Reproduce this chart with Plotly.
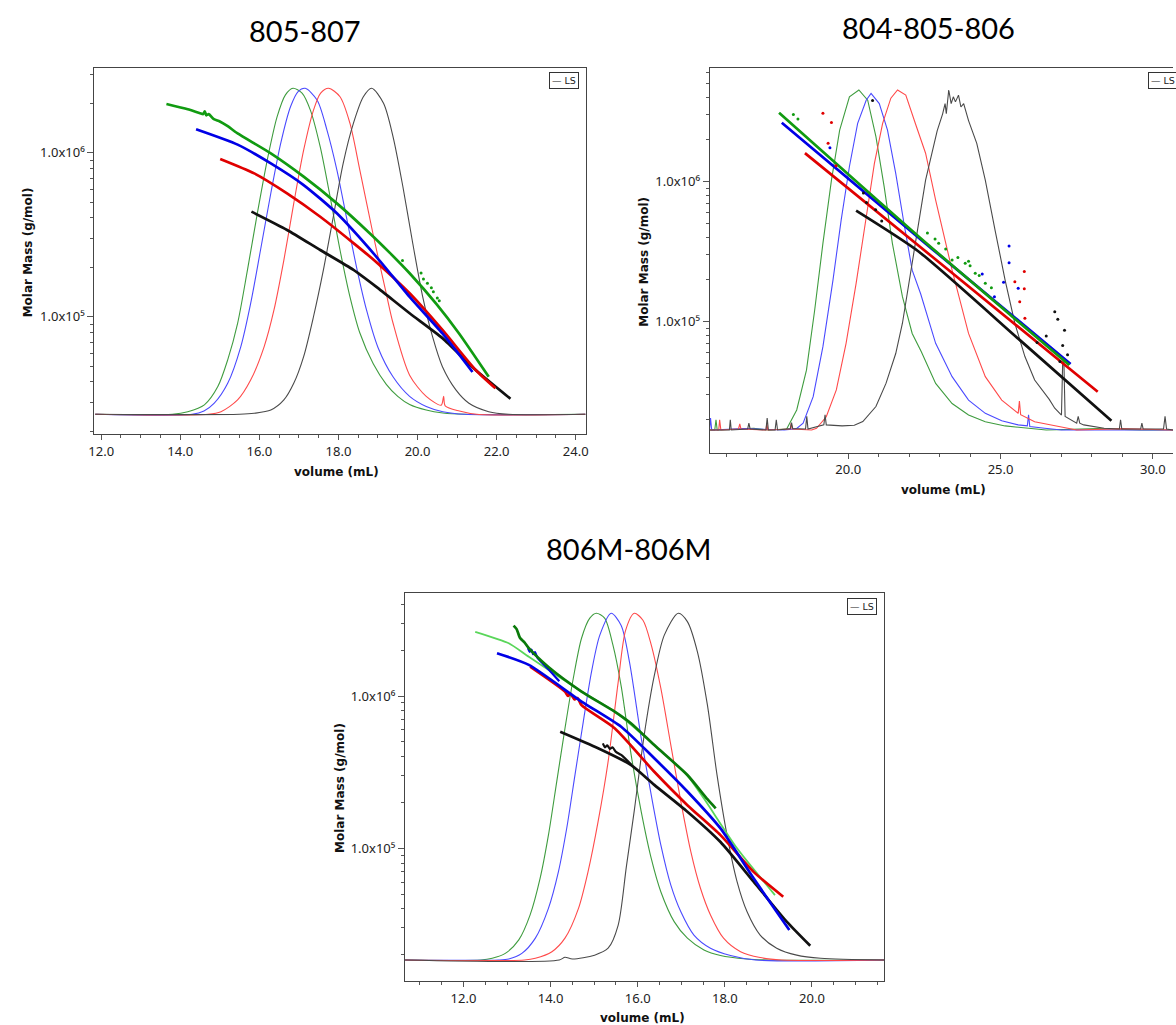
import plotly.graph_objects as go

W, H = 1176, 1025

# ---------------- data ----------------
panel_titles = ["805-807", "804-805-806", "806M-806M"]
x_title = "volume (mL)"
y_title = "Molar Mass (g/mol)"
mm_tick_vals = [1e5, 1e6]
mm_tick_text = ["1.0x10\u2075", "1.0x10\u2076"]
legend_text = "\u2014 LS"

# ---- Panel 1 (805-807): LS signal, (volume mL, normalized) ----
p1_ls_green = [(11.85, 0), (13.8, 0), (14.19, 0.008), (14.61, 0.029), (14.95, 0.085), (15.20, 0.167),
               (15.45, 0.279), (15.70, 0.443), (15.95, 0.617), (16.20, 0.78), (16.45, 0.913), (16.66, 0.98),
               (16.85, 1.0), (17.08, 0.985), (17.29, 0.933), (17.54, 0.82), (17.79, 0.667), (18.04, 0.504),
               (18.29, 0.361), (18.54, 0.25), (18.88, 0.155), (19.21, 0.092), (19.50, 0.055), (19.80, 0.03),
               (20.22, 0.013), (20.64, 0.004), (21.2, 0), (24.25, 0)]
p1_ls_blue = [(11.85, 0), (14.30, 0), (14.60, 0.01), (14.86, 0.034), (15.20, 0.095), (15.53, 0.207),
              (15.78, 0.34), (16.03, 0.504), (16.29, 0.678), (16.54, 0.831), (16.79, 0.944), (16.98, 0.99),
              (17.16, 1.0), (17.46, 0.964), (17.71, 0.872), (17.96, 0.75), (18.21, 0.60), (18.46, 0.45),
              (18.71, 0.32), (19.00, 0.205), (19.38, 0.115), (19.80, 0.055), (20.22, 0.024), (20.64, 0.008),
              (21.2, 0), (24.25, 0)]
p1_ls_red = [(11.85, 0), (14.70, 0), (15.03, 0.008), (15.45, 0.044), (15.78, 0.105), (16.12, 0.207),
             (16.37, 0.32), (16.62, 0.473), (16.87, 0.647), (17.12, 0.81), (17.37, 0.933), (17.55, 0.985),
             (17.75, 1.0), (18.04, 0.974), (18.29, 0.893), (18.54, 0.75), (18.88, 0.55), (19.21, 0.37),
             (19.38, 0.28), (19.80, 0.12), (20.22, 0.055), (20.60, 0.028), (20.66, 0.055), (20.70, 0.026),
             (21.06, 0.01), (21.5, 0), (24.25, 0)]
p1_ls_black = [(11.85, 0), (15.50, 0), (15.87, 0.003), (16.29, 0.013), (16.62, 0.044), (16.87, 0.095),
               (17.12, 0.177), (17.37, 0.30), (17.62, 0.443), (17.87, 0.606), (18.12, 0.77), (18.38, 0.893),
               (18.63, 0.974), (18.84, 1.0), (19.14, 0.954), (19.38, 0.852), (19.63, 0.698), (19.88, 0.524),
               (20.13, 0.361), (20.38, 0.238), (20.63, 0.146), (20.97, 0.075), (21.30, 0.034), (21.80, 0.008),
               (22.3, 0), (24.25, 0)]
# Panel 1 molar mass (volume mL, g/mol)
p1_mw_green = [(13.65, 1.98e6), (14.19, 1.84e6), (14.50, 1.74e6), (14.58, 1.72e6), (14.62, 1.79e6),
               (14.66, 1.69e6), (14.72, 1.72e6), (14.85, 1.60e6), (15.00, 1.55e6), (15.20, 1.45e6),
               (15.45, 1.31e6), (16.29, 9.9e5), (17.12, 7.14e5), (17.96, 4.91e5), (18.79, 3.23e5),
               (19.30, 2.45e5), (19.80, 1.84e5), (20.47, 1.2e5), (21.05, 7.9e4), (21.80, 4.3e4)]
p1_mw_blue = [(14.40, 1.39e6), (15.45, 1.12e6), (16.29, 8.6e5), (17.12, 6.35e5), (17.96, 4.27e5),
              (18.96, 2.32e5), (19.80, 1.32e5), (20.63, 7.9e4), (21.39, 4.6e4)]
p1_mw_red = [(15.01, 9.16e5), (15.87, 7.48e5), (16.70, 5.65e5), (17.54, 4.07e5), (18.38, 2.81e5),
             (18.96, 2.15e5), (19.80, 1.39e5), (20.63, 8.3e4), (21.47, 4.73e4), (21.97, 3.66e4)]
p1_mw_black = [(15.80, 4.37e5), (16.70, 3.38e5), (17.54, 2.55e5), (18.38, 1.93e5), (18.96, 1.52e5),
               (19.80, 1.05e5), (20.63, 7.4e4), (21.47, 4.73e4), (22.35, 3.16e4)]
p1_dots_green = [(20.09, 1.85e5), (20.40, 1.42e5), (20.25, 1.6e5), (20.50, 1.3e5), (20.35, 1.5e5),
                 (20.55, 1.25e5), (19.62, 2.2e5), (20.15, 1.7e5)]

# ---- Panel 2 (804-805-806) ----
p2_ls_green = [(15.45, 0), (15.62, 0), (15.66, 0.03), (15.70, 0), (16.90, 0.005), (17.40, 0), (17.98, 0.003),
               (18.31, 0.059), (18.63, 0.176),
               (18.90, 0.353), (19.17, 0.549), (19.45, 0.735), (19.72, 0.882), (20.04, 0.98), (20.35, 1.0),
               (20.64, 0.97), (20.91, 0.863), (21.18, 0.716), (21.45, 0.549), (21.78, 0.392), (22.10, 0.284),
               (22.40, 0.23), (22.87, 0.137), (23.41, 0.078), (23.95, 0.044), (24.50, 0.024), (25.15, 0.012),
               (25.90, 0.005), (26.50, 0), (28.20, 0.004), (29.60, 0), (30.66, 0)]
p2_ls_blue = [(15.45, 0), (15.48, 0.035), (15.52, 0), (16.60, 0.004), (17.90, 0), (18.30, 0.004),
              (18.52, 0.02), (18.85, 0.098), (19.17, 0.245),
              (19.50, 0.441), (19.77, 0.618), (20.04, 0.775), (20.31, 0.902), (20.59, 0.97), (20.75, 0.99),
              (21.02, 0.96), (21.29, 0.882), (21.56, 0.755), (21.83, 0.608), (22.10, 0.47), (22.38, 0.40),
              (22.87, 0.255), (23.41, 0.157), (23.95, 0.088), (24.50, 0.049), (25.04, 0.027), (25.58, 0.015),
              (25.88, 0.012), (25.92, 0.045), (25.96, 0.01), (26.45, 0.005), (27.00, 0), (30.66, 0)]
p2_ls_red = [(15.45, 0), (15.75, 0), (15.78, 0.03), (15.82, 0), (16.40, 0.003), (16.44, 0.018), (16.48, 0.003),
             (17.30, 0), (17.33, 0.02), (17.36, 0), (18.10, 0.003), (18.13, 0.02), (18.16, 0.003),
             (18.80, 0), (18.96, 0.005), (19.28, 0.039), (19.61, 0.118), (19.93, 0.255), (20.26, 0.431),
             (20.59, 0.627), (20.86, 0.784), (21.13, 0.902), (21.40, 0.976), (21.62, 1.0), (21.89, 0.985),
             (22.21, 0.90), (22.54, 0.814), (22.87, 0.676), (23.41, 0.47), (23.95, 0.284), (24.50, 0.157),
             (25.04, 0.088), (25.58, 0.049), (25.62, 0.085), (25.66, 0.045), (26.12, 0.024), (26.88, 0.01),
             (27.50, 0), (29.00, 0.004), (30.66, 0)]
p2_ls_black = [(15.45, 0), (16.10, 0), (16.13, 0.03), (16.16, 0), (16.70, 0.003), (16.74, 0.02),
               (16.78, 0.003), (17.30, 0), (17.34, 0.035), (17.38, 0),
               (17.60, 0), (17.64, 0.03), (17.68, 0), (18.10, 0.004), (18.14, 0.022), (18.18, 0.004),
               (18.60, 0.003), (18.64, 0.04), (18.68, 0.003),
               (19.20, 0.015), (19.24, 0.045), (19.28, 0.015), (19.80, 0.012), (20.20, 0.014), (20.48, 0.025),
               (20.91, 0.069), (21.24, 0.137), (21.56, 0.225), (21.78, 0.314), (21.99, 0.431), (22.27, 0.578),
               (22.54, 0.735), (22.92, 0.88), (23.10, 0.93), (23.18, 0.96), (23.22, 0.93), (23.30, 1.0),
               (23.38, 0.96), (23.45, 0.98), (23.52, 0.965), (23.62, 0.985), (23.70, 0.95), (23.79, 0.96),
               (23.95, 0.91), (24.22, 0.843), (24.50, 0.735), (24.82, 0.588), (25.15, 0.441), (25.47, 0.314),
               (25.80, 0.216), (26.12, 0.147), (26.45, 0.108), (26.60, 0.09), (26.78, 0.064), (27.00, 0.044),
               (27.04, 0.20), (27.08, 0.20), (27.12, 0.04), (27.30, 0.03), (27.50, 0.02), (27.55, 0.04),
               (27.60, 0.02), (27.73, 0.015), (28.40, 0.005), (28.90, 0.003), (28.94, 0.03), (28.98, 0.003),
               (29.60, 0.003), (29.64, 0.02), (29.68, 0.003),
               (30.35, 0.003), (30.40, 0.04), (30.45, 0.003), (30.66, 0)]
p2_mw_green = [(17.73, 3.11e6), (22.32, 4.05e5), (27.26, 4.9e4)]
p2_mw_blue = [(17.82, 2.64e6), (22.76, 3.3e5), (27.30, 4.99e4)]
p2_mw_red = [(18.58, 1.6e6), (22.76, 2.91e5), (28.19, 3.16e4)]
p2_mw_black = [(20.26, 6.21e5), (22.32, 3.16e5), (25.58, 7.57e4), (28.64, 1.96e4)]
p2_dots_green = [(18.20, 3.02e6), (18.35, 2.8e6), (22.97, 3.63e5), (23.41, 2.76e5), (23.84, 2.61e5),
                 (24.17, 2.22e5), (24.50, 1.88e5), (23.60, 2.88e5), (24.00, 2.51e5), (24.30, 2.14e5),
                 (23.20, 3.3e5), (22.60, 4.3e5), (24.70, 1.75e5), (23.95, 2.7e5), (22.85, 3.9e5)]
p2_dots_red = [(19.17, 3.08e6), (19.45, 2.65e6), (19.34, 1.88e6), (25.78, 2.28e5), (25.47, 1.93e5),
               (25.78, 1.72e5), (25.63, 1.39e5), (25.80, 1.06e5), (19.60, 1.3e6)]
p2_dots_blue = [(25.28, 3.48e5), (25.28, 2.64e5), (25.58, 1.73e5), (25.10, 1.91e5), (24.40, 2.19e5),
                (24.80, 1.51e5), (19.40, 1.75e6)]
p2_dots_black = [(20.80, 3.8e6), (20.50, 8.3e5), (20.60, 7.1e5), (20.90, 6.3e5), (21.10, 5.25e5),
                 (26.78, 1.18e5), (26.88, 1.04e5), (27.10, 8.7e4), (27.04, 6.76e4), (26.50, 7.9e4),
                 (26.20, 7.1e4), (26.95, 5.2e4), (27.20, 5.8e4)]

# ---- Panel 3 (806M-806M) ----
p3_ls_green = [(10.66, 0), (12.40, 0), (12.66, 0.005), (12.96, 0.019), (13.27, 0.058), (13.53, 0.13),
               (13.76, 0.236), (13.95, 0.36), (14.14, 0.514), (14.33, 0.668), (14.52, 0.812), (14.71, 0.928),
               (14.90, 0.986), (15.05, 1.0), (15.24, 0.986), (15.43, 0.909), (15.62, 0.79), (15.85, 0.591),
               (16.08, 0.428), (16.31, 0.293), (16.53, 0.197), (16.84, 0.11), (17.14, 0.063), (17.52, 0.029),
               (17.90, 0.013), (18.50, 0.003), (19.00, 0), (21.66, 0)]
p3_ls_blue = [(10.66, 0), (12.80, 0), (13.04, 0.003), (13.34, 0.019), (13.65, 0.063), (13.95, 0.149),
              (14.18, 0.255), (14.37, 0.38), (14.56, 0.534), (14.75, 0.687), (14.94, 0.832), (15.13, 0.937),
              (15.39, 1.0), (15.62, 0.965), (15.81, 0.86), (16.08, 0.64), (16.31, 0.476), (16.53, 0.332),
              (16.76, 0.216), (16.99, 0.139), (17.29, 0.072), (17.67, 0.034), (18.13, 0.013), (18.70, 0),
              (21.66, 0)]
p3_ls_red = [(10.66, 0), (13.40, 0), (13.65, 0.005), (14.03, 0.024), (14.33, 0.063), (14.64, 0.149),
             (14.86, 0.255), (15.09, 0.399), (15.32, 0.572), (15.55, 0.80), (15.72, 0.95), (15.92, 1.0),
             (16.12, 0.98), (16.31, 0.909), (16.53, 0.784), (16.76, 0.62), (16.99, 0.457), (17.22, 0.312),
             (17.44, 0.207), (17.67, 0.13), (17.97, 0.063), (18.36, 0.024), (18.81, 0.007), (19.30, 0),
             (21.66, 0)]
p3_ls_black = [(10.66, 0), (14.20, 0), (14.33, 0.008), (14.50, 0.003), (15.01, 0.014), (15.32, 0.034),
               (15.55, 0.10), (15.74, 0.27), (15.92, 0.43), (16.15, 0.65), (16.38, 0.82), (16.61, 0.937),
               (16.93, 1.0), (17.14, 0.976), (17.37, 0.889), (17.60, 0.735), (17.82, 0.534), (18.05, 0.36),
               (18.28, 0.226), (18.51, 0.139), (18.81, 0.072), (19.19, 0.034), (19.65, 0.014), (20.20, 0.005),
               (21.66, 0)]
p3_mw_lightgreen = [(12.27, 2.64e6), (13.04, 2.22e6), (13.50, 1.81e6), (14.71, 1.07e6), (15.47, 7.9e5),
                    (16.38, 4.76e5), (17.14, 3.0e5), (17.52, 2.12e5), (18.28, 1.0e5), (19.15, 4.93e4)]
p3_mw_green = [(13.15, 2.9e6), (13.22, 2.75e6), (13.30, 2.4e6), (13.40, 2.25e6), (13.50, 2.06e6),
               (13.95, 1.55e6), (14.71, 1.07e6), (15.47, 7.9e5), (15.85, 6.6e5), (16.38, 4.76e5),
               (17.14, 3.03e5), (17.60, 2.1e5), (17.79, 1.83e5)]
p3_mw_blue = [(12.77, 1.91e6), (13.50, 1.6e6), (14.71, 9.2e5), (15.62, 6.28e5), (16.38, 3.9e5),
              (17.14, 2.36e5), (17.90, 1.35e5), (18.66, 6.35e4), (19.48, 2.91e4)]
p3_mw_blue_noisy = [(13.48, 2.06e6), (13.52, 1.95e6), (13.56, 2.02e6), (13.60, 1.88e6), (13.64, 1.94e6),
                    (13.70, 1.78e6), (13.78, 1.68e6), (13.95, 1.5e6), (14.20, 1.25e6)]
p3_mw_red = [(13.53, 1.56e6), (14.33, 1.07e6), (14.40, 1.0e6), (14.45, 1.04e6), (14.55, 9.5e5),
             (14.62, 9.7e5), (14.71, 8.7e5), (15.47, 6.14e5), (16.38, 3.18e5), (17.14, 1.92e5),
             (17.90, 1.22e5), (18.66, 7.0e4), (19.34, 4.81e4)]
p3_mw_black = [(14.22, 5.83e5), (15.09, 4.54e5), (15.85, 3.52e5), (16.38, 2.61e5), (17.14, 1.74e5),
               (17.90, 1.1e5), (18.66, 6.04e4), (19.42, 3.3e4), (19.96, 2.29e4)]
p3_mw_black_noisy = [(15.20, 4.89e5), (15.25, 4.6e5), (15.30, 4.75e5), (15.36, 4.5e5), (15.42, 4.6e5),
                     (15.50, 4.3e5), (15.62, 4.1e5), (15.85, 3.55e5)]

# ---------------- styling / layout ----------------
LS_COL = {"green": "#3f9c3f", "blue": "#4a4aff", "red": "#ff4a4a", "black": "#4a4a4a"}
MW_COL = {"green": "#119b11", "blue": "#0000e6", "red": "#e00000", "black": "#111111",
          "lightgreen": "#5ad65a", "darkgreen": "#0a7a0a"}

panels = [
    dict(l=89, r=584, t=68.3, b=434, v0=12, px0=95.9, ppm=39.85, y6=152.7, y5=316.7,
         base=414.3, peak=88.3, dtick=2, minor=0.5, leg=(577, 72.5, "right"),
         title=(301, 30), ytitle=(22, 252.5), xtitle=(333, 472)),
    dict(l=709, r=1176, t=68.3, b=452.7, v0=20, px0=848.7, ppm=30.7, y6=181.7, y5=321.7,
         base=430, peak=90, dtick=5, minor=1, leg=(1151, 72.5, "left"),
         title=(930, 27), ytitle=(643, 261.7), xtitle=(945, 490)),
    dict(l=402, r=885, t=593.3, b=981, v0=12, px0=461, ppm=43.9, y6=696, y5=848.3,
         base=960, peak=613.3, dtick=2, minor=0.5, leg=(878, 597.5, "right"),
         title=(628, 548), ytitle=(336, 787.5), xtitle=(641, 1018)),
]

ls_data = [
    [("green", p1_ls_green), ("blue", p1_ls_blue), ("red", p1_ls_red), ("black", p1_ls_black)],
    [("green", p2_ls_green), ("blue", p2_ls_blue), ("red", p2_ls_red), ("black", p2_ls_black)],
    [("green", p3_ls_green), ("blue", p3_ls_blue), ("red", p3_ls_red), ("black", p3_ls_black)],
]
mw_data = [
    [("black", p1_mw_black, 2.7), ("red", p1_mw_red, 2.7), ("blue", p1_mw_blue, 2.7), ("green", p1_mw_green, 2.7)],
    [("black", p2_mw_black, 2.7), ("red", p2_mw_red, 2.7), ("blue", p2_mw_blue, 2.7), ("green", p2_mw_green, 2.7)],
    [("lightgreen", p3_mw_lightgreen, 1.8), ("black", p3_mw_black, 2.7), ("black", p3_mw_black_noisy, 2.2),
     ("red", p3_mw_red, 2.7), ("blue", p3_mw_blue, 2.7), ("blue", p3_mw_blue_noisy, 2.2),
     ("darkgreen", p3_mw_green, 2.7)],
]
dot_data = [
    [("green", p1_dots_green)],
    [("green", p2_dots_green), ("red", p2_dots_red), ("blue", p2_dots_blue), ("black", p2_dots_black)],
    [],
]

minor_vals = [k * 10 ** e for e in (3, 4, 5, 6) for k in range(2, 10)]

fig = go.Figure()
layout = dict(width=W, height=H, margin=dict(l=0, r=0, t=0, b=0), showlegend=False,
              paper_bgcolor="white", plot_bgcolor="white", annotations=[])

tickfont = dict(family="Noto Sans, Open Sans, sans-serif", size=13, color="#222")
boldfont = dict(family="DejaVu Sans, sans-serif", size=12, color="#111", weight="bold")

for i, p in enumerate(panels):
    n = i + 1
    xa = "x" if n == 1 else f"x{n}"
    ya_ls = "y" if n == 1 else f"y{n}"
    ya_mw = f"y{n + 3}"
    xkey = "xaxis" if n == 1 else f"xaxis{n}"
    ykey_ls = "yaxis" if n == 1 else f"yaxis{n}"
    ykey_mw = f"yaxis{n + 3}"

    xr = [p["v0"] + (p["l"] - p["px0"]) / p["ppm"], p["v0"] + (p["r"] - p["px0"]) / p["ppm"]]
    dec = p["y5"] - p["y6"]
    yr_log = [5 - (p["b"] - p["y5"]) / dec, 6 + (p["y6"] - p["t"]) / dec]
    amp = p["base"] - p["peak"]
    yr_ls = [-(p["b"] - p["base"]) / amp, (p["base"] - p["t"]) / amp]
    dom_x = [p["l"] / W, min(p["r"] / W, 1.0)]
    dom_y = [1 - p["b"] / H, 1 - p["t"] / H]
    cut = p["r"] >= W

    layout[xkey] = dict(domain=dom_x, anchor=ya_ls, range=xr, showgrid=False, zeroline=False,
                        showline=True, linecolor="#444", linewidth=1, mirror=True,
                        ticks="outside", ticklen=5, tickcolor="#555", tick0=0, dtick=p["dtick"],
                        tickformat=".1f", tickfont=tickfont,
                        minor=dict(ticks="outside", ticklen=3, tickcolor="#555", dtick=p["minor"], tick0=0))
    layout[ykey_ls] = dict(domain=dom_y, anchor=xa, range=yr_ls, visible=False, showgrid=False,
                           zeroline=False)
    layout[ykey_mw] = dict(overlaying=ya_ls, anchor=xa, side="left", type="log", range=yr_log,
                           showgrid=False, zeroline=False, showline=True, linecolor="#444", linewidth=1,
                           mirror=not cut, ticks="outside", ticklen=6, tickcolor="#555",
                           tickmode="array", tickvals=mm_tick_vals, ticktext=mm_tick_text, tickfont=tickfont,
                           minor=dict(ticks="outside", ticklen=3, tickcolor="#555", tickmode="array",
                                      tickvals=minor_vals))

    for col, pts in ls_data[i]:
        spiky = (n == 2)
        fig.add_trace(go.Scatter(x=[a for a, _ in pts], y=[b for _, b in pts], mode="lines",
                                 line=dict(color=LS_COL[col], width=1.1,
                                           shape="linear" if spiky else "spline", smoothing=0.8),
                                 xaxis=xa, yaxis=ya_ls, hoverinfo="skip"))
    for col, pts, lw in mw_data[i]:
        fig.add_trace(go.Scatter(x=[a for a, _ in pts], y=[b for _, b in pts], mode="lines",
                                 line=dict(color=MW_COL[col], width=lw, shape="spline", smoothing=0.6),
                                 xaxis=xa, yaxis=ya_mw, hoverinfo="skip"))
    for col, pts in dot_data[i]:
        fig.add_trace(go.Scatter(x=[a for a, _ in pts], y=[b for _, b in pts], mode="markers",
                                 marker=dict(color=MW_COL[col], size=3),
                                 xaxis=xa, yaxis=ya_mw, hoverinfo="skip"))

    tx, ty = p["title"]
    layout["annotations"].append(dict(text=panel_titles[i], x=tx / W, y=1 - ty / H, xref="paper", yref="paper",
                                      xanchor="center", yanchor="middle", showarrow=False,
                                      font=dict(family="Lato, Noto Sans, sans-serif", size=29, color="#000")))
    yx, yy = p["ytitle"]
    layout["annotations"].append(dict(text=y_title, x=yx / W, y=1 - yy / H, xref="paper",
                                      yref="paper", xanchor="center", yanchor="middle", showarrow=False,
                                      textangle=-90, font=boldfont))
    xx, xy = p["xtitle"]
    layout["annotations"].append(dict(text=x_title, x=xx / W, y=1 - xy / H, xref="paper",
                                      yref="paper", xanchor="center", yanchor="middle", showarrow=False,
                                      font=boldfont))
    lx, ly, lanchor = p["leg"]
    layout["annotations"].append(dict(text=legend_text, x=lx / W, y=1 - ly / H, xref="paper", yref="paper",
                                      xanchor=lanchor, yanchor="top", showarrow=False,
                                      bordercolor="#333", borderwidth=1, borderpad=2, bgcolor="white",
                                      font=dict(family="DejaVu Sans, sans-serif", size=9.5, color="#222")))

fig.update_layout(**layout)
fig.write_html("out.html", config={"displayModeBar": False},
               post_script="document.body.style.margin='0px';")
